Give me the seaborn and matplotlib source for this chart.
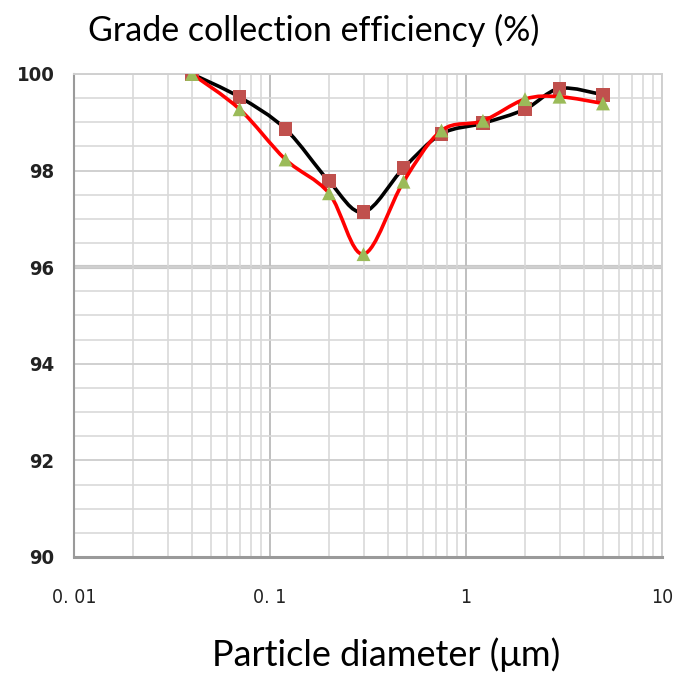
import numpy as np
import seaborn as sns
import matplotlib.pyplot as plt
from matplotlib.path import Path
from matplotlib.patches import PathPatch
from matplotlib.ticker import FixedLocator, MultipleLocator, NullFormatter

# particle diameter (um) and grade efficiency (%) for the two runs
diameter = [0.04, 0.07, 0.12, 0.2, 0.3, 0.48, 0.75, 1.22, 2.0, 3.0, 5.0]
eff_square = [100.0, 99.52, 98.86, 97.78, 97.14, 98.05, 98.76, 98.98, 99.27, 99.70, 99.57]
eff_triangle = [100.0, 99.27, 98.23, 97.53, 96.27, 97.77, 98.83, 99.03, 99.48, 99.53, 99.39]

x_ticks = [0.01, 0.1, 1, 10]
x_tick_labels = ["0. 01", "0. 1", "1", "10"]
y_ticks = [90, 92, 94, 96, 98, 100]


def smooth_path(xs, ys):
    # Excel-style smoothed line: Catmull-Rom through the points, built in log-x space
    lx = np.log10(xs)
    pts = np.column_stack([lx, ys])
    pts = np.vstack([pts[0], pts, pts[-1]])
    verts = [pts[1]]
    codes = [Path.MOVETO]
    for i in range(1, len(pts) - 2):
        p0, p1, p2, p3 = pts[i - 1], pts[i], pts[i + 1], pts[i + 2]
        c1 = p1 + (p2 - p0) / 6
        c2 = p2 - (p3 - p1) / 6
        verts += [c1, c2, p2]
        codes += [Path.CURVE4] * 3
    verts = np.array(verts)
    verts[:, 0] = 10 ** verts[:, 0]
    return Path(verts, codes)


sns.set_style("white")
plt.rcParams['font.family'] = ['DejaVu Sans']

fig = plt.figure(figsize=(6.87, 6.77), dpi=100)
ax = fig.add_axes([0.1077, 0.1773, 0.8559, 0.7134])
ax.set_xscale("log")
ax.set_xlim(0.01, 10)
ax.set_ylim(90, 100)

# grid
ax.xaxis.set_major_locator(FixedLocator(x_ticks))
ax.xaxis.set_minor_locator(FixedLocator([m * 10.0 ** e for e in (-2, -1, 0) for m in range(2, 10)]))
ax.xaxis.set_minor_formatter(NullFormatter())
ax.yaxis.set_major_locator(FixedLocator(y_ticks))
ax.yaxis.set_minor_locator(MultipleLocator(0.5))
ax.grid(which="minor", color="#d9d9d9", linewidth=1.2)
ax.grid(which="major", axis="x", color="#bfbfbf", linewidth=1.4)
ax.grid(which="major", axis="y", color="#d0d0d0", linewidth=1.4)
ax.axhline(96, color="#c8c8c8", linewidth=3, zorder=0.5)
ax.set_axisbelow(True)

for side in ["top", "right"]:
    ax.spines[side].set_color("#d0d0d0")
    ax.spines[side].set_linewidth(1.4)
ax.spines["left"].set_color("#9a9a9a")
ax.spines["left"].set_linewidth(1.5)
ax.spines["bottom"].set_color("#9a9a9a")
ax.spines["bottom"].set_linewidth(2.2)

# curves
ax.add_patch(PathPatch(smooth_path(diameter, eff_square), facecolor="none",
                       edgecolor="black", linewidth=2.6, zorder=3))
sns.scatterplot(x=diameter, y=eff_square, marker="s", s=95, color="#c0504d",
                edgecolor="none", ax=ax, zorder=4)
ax.add_patch(PathPatch(smooth_path(diameter, eff_triangle), facecolor="none",
                       edgecolor="#ff0000", linewidth=2.6, zorder=5))
sns.scatterplot(x=diameter, y=eff_triangle, marker="^", s=100, color="#9bbb59",
                edgecolor="none", ax=ax, zorder=6)

# ticks
ax.set_xticks(x_ticks)
ax.set_xticklabels(x_tick_labels, fontsize=14, fontstretch="condensed", color="#222222")
ax.set_yticks(y_ticks)
ax.set_yticklabels([str(v) for v in y_ticks], fontsize=14.5, fontweight="bold",
                   fontstretch="condensed", color="#222222")
ax.tick_params(axis="x", which="major", length=6, width=1.2, color="#9a9a9a", pad=16)
ax.tick_params(axis="x", which="minor", length=0)
ax.tick_params(axis="y", which="major", length=4, width=1, color="#bfbfbf", pad=10)
ax.tick_params(axis="y", which="minor", length=4, width=1, color="#d9d9d9")
ax.set_xlabel("")
ax.set_ylabel("")

fig.text(0.457, 0.955, "Grade collection efficiency (%)", ha="center", va="center",
         fontsize=24.5, family=["Lato", "DejaVu Sans"], color="black")
fig.text(0.5626, 0.033, "Particle diameter (\u03bcm)", ha="center", va="center",
         fontsize=26, family=["Lato", "DejaVu Sans"], color="black")

fig.savefig("out.png", dpi=100)
